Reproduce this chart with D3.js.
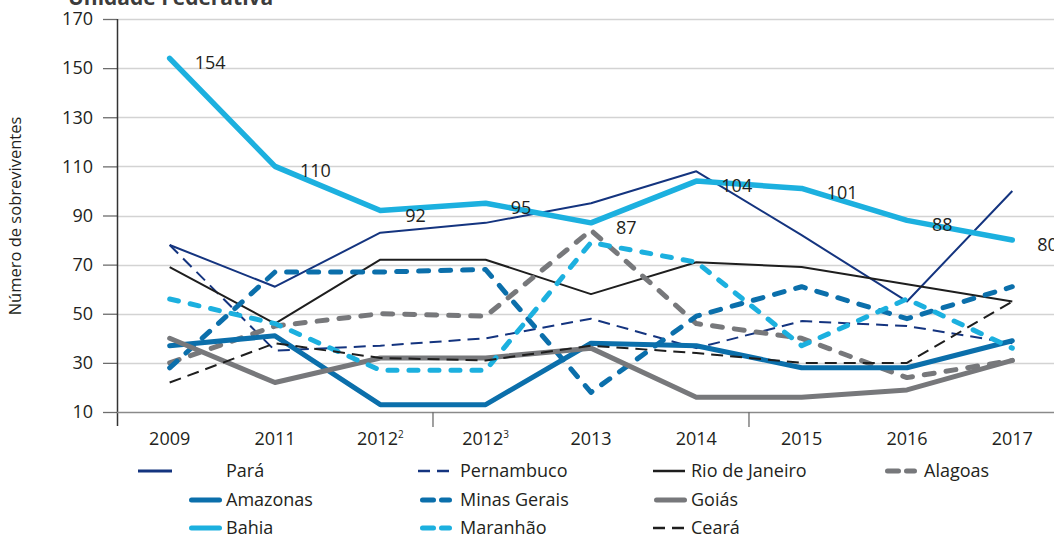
<!DOCTYPE html>
<html><head><meta charset="utf-8">
<script src="https://cdn.jsdelivr.net/npm/d3@7"></script>
<style>
html,body{margin:0;padding:0;background:#fff;}
svg{display:block;font-family:"Open Sans",sans-serif;}
</style></head>
<body><svg id="chart" width="1054" height="536"></svg>
<script>
// ---- data ----
const categories = ["2009","2011","2012²","2012³","2013","2014","2015","2016","2017"];
const yTicks = [10,30,50,70,90,110,130,150,170];
const para       = [78, 61, 83, 87, 95, 108, 82, 55, 100];
const pernambuco = [78, 35, 37, 40, 48, 36, 47, 45, 38];
const rio        = [69, 46, 72, 72, 58, 71, 69, 62, 55];
const alagoas    = [30, 45, 50, 49, 84, 46, 40, 24, 31];
const amazonas   = [37, 41, 13, 13, 38, 37, 28, 28, 39];
const minas      = [28, 67, 67, 68, 18, 49, 61, 48, 61];
const goias      = [40, 22, 32, 32, 36, 16, 16, 19, 31];
const bahia      = [154, 110, 92, 95, 87, 104, 101, 88, 80];
const maranhao   = [56, 46, 27, 27, 79, 71, 37, 56, 36];
const ceara      = [22, 38, 32, 31, 37, 34, 30, 30, 55];
const seriesNames = ["Pará","Pernambuco","Rio de Janeiro","Alagoas","Amazonas","Minas Gerais","Goiás","Bahia","Maranhão","Ceará"];
const seriesValues = [para, pernambuco, rio, alagoas, amazonas, minas, goias, bahia, maranhao, ceara];
const labelledSeries = "Bahia";

// ---- styles ----
const NAVY="#14347f", MID="#0b6fab", LIGHT="#1cb0df", GRAY="#77787b", BLACK="#1e1e1e";
const styles = {
  "Pará":          {color:NAVY,  w:2,   dash:null,    cap:"butt"},
  "Pernambuco":    {color:NAVY,  w:2,   dash:"12,7",  cap:"butt"},
  "Rio de Janeiro":{color:BLACK, w:2,   dash:null,    cap:"butt"},
  "Alagoas":       {color:GRAY,  w:5,   dash:"10,12", cap:"round"},
  "Amazonas":      {color:MID,   w:5,   dash:null,    cap:"round"},
  "Minas Gerais":  {color:MID,   w:5,   dash:"10,12", cap:"round"},
  "Goiás":         {color:GRAY,  w:5,   dash:null,    cap:"round"},
  "Bahia":         {color:LIGHT, w:5.5, dash:null,    cap:"round"},
  "Maranhão":      {color:LIGHT, w:5,   dash:"9,12",  cap:"round"},
  "Ceará":         {color:BLACK, w:2,   dash:"12,7",  cap:"butt"}
};
// legend layout: [x1, x2, textX, y]
const legendPos = {
  "Pará":[138,172,226,471], "Pernambuco":[418,450,460,471], "Rio de Janeiro":[653,685,691,471], "Alagoas":[885,917,924,471],
  "Amazonas":[189,222,226,500], "Minas Gerais":[420,452,460,500], "Goiás":[654,687,691,500],
  "Bahia":[189,222,226,528], "Maranhão":[420,452,460,528], "Ceará":[653,685,691,528]
};

const svg = d3.select("#chart");
const x = d3.scaleBand().domain(categories).range([117, 117 + 9*105.33]).paddingInner(0).paddingOuter(0);
const y = d3.scaleLinear().domain([10,170]).range([412,19]);
const cx = c => x(c) + x.bandwidth()/2;

// title (cut off at top)
svg.append("text").attr("x",68).attr("y",5).attr("font-size",21).attr("font-weight","bold")
  .attr("fill","#3c3c3c").text("Unidade Federativa");

// gridlines
svg.append("g").selectAll("line").data(yTicks.filter(t=>t>10)).join("line")
  .attr("x1",117).attr("x2",1065).attr("y1",d=>Math.round(y(d))+0.5).attr("y2",d=>Math.round(y(d))+0.5)
  .attr("stroke","#d3d3d3").attr("stroke-width",1.3);

// y axis
const yAxis = svg.append("g").attr("transform","translate(117,0)")
  .call(d3.axisLeft(y).tickValues(yTicks).tickSize(14).tickPadding(10).tickFormat(d3.format("d")));
yAxis.select(".domain").remove();
yAxis.selectAll(".tick line").attr("stroke","#6d6d6d").attr("stroke-width",1.3);
yAxis.selectAll(".tick text").attr("font-size",18).attr("fill","#231f20").attr("font-family","Open Sans");
svg.append("line").attr("x1",117.5).attr("x2",117.5).attr("y1",19).attr("y2",426).attr("stroke","#333").attr("stroke-width",1.5);

// x axis
const xAxisG = svg.append("g").attr("transform","translate(0,412)");
xAxisG.append("line").attr("x1",117).attr("x2",1065).attr("y1",0.5).attr("y2",0.5).attr("stroke","#8a8a8a").attr("stroke-width",1.6);
const xt = d3.axisBottom(x).tickSize(0).tickPadding(0);
const gx = svg.append("g").attr("transform","translate(0,412)").call(xt);
gx.select(".domain").remove();
gx.selectAll(".tick text").each(function(d){
  const t = d3.select(this).text("").attr("font-size",18).attr("fill","#231f20").attr("font-family","Open Sans").attr("y",33).attr("dy",null);
  const m = d.match(/^(\d{4})([²³]?)$/);
  t.append("tspan").text(m[1]);
  if (m[2]) t.append("tspan").attr("font-size",10).attr("dy",-7).text(m[2]==="²"?"2":"3");
});
// group ticks every 3 categories
[3,6,9].forEach(i=>{
  const xx = 117 + i*x.step();
  svg.append("line").attr("x1",xx).attr("x2",xx).attr("y1",412).attr("y2",427).attr("stroke","#6d6d6d").attr("stroke-width",1.3);
});

// y title
svg.append("text").attr("transform","translate(21,216) rotate(-90)").attr("text-anchor","middle")
  .attr("font-size",16.5).attr("fill","#231f20").text("Número de sobreviventes");

// lines
const line = d3.line().x((d,i)=>cx(categories[i])).y(d=>y(d));
const lg = svg.append("g");
seriesNames.forEach((name,k)=>{
  const s = styles[name];
  lg.append("path").datum(seriesValues[k]).attr("d",line).attr("fill","none")
    .attr("stroke",s.color).attr("stroke-width",s.w).attr("stroke-linejoin","round")
    .attr("stroke-linecap",s.cap).attr("stroke-dasharray",s.dash);
});

// data labels for Bahia
const bv = seriesValues[seriesNames.indexOf(labelledSeries)];
svg.append("g").selectAll("text").data(bv).join("text")
  .attr("x",(d,i)=>cx(categories[i])+25).attr("y",d=>y(d)+11)
  .attr("font-size",18).attr("fill","#231f20").text(d=>d);

// legend
const leg = svg.append("g");
seriesNames.forEach(name=>{
  const s = styles[name], p = legendPos[name];
  const thick = s.w >= 5;
  leg.append("line").attr("x1",p[0] + (thick?2.5:0)).attr("x2",p[1] - (thick?2.5:0)).attr("y1",p[3]).attr("y2",p[3])
    .attr("stroke",s.color).attr("stroke-width",thick?5:(name==="Pará"?3:2.5))
    .attr("stroke-linecap",s.cap)
    .attr("stroke-dasharray", s.dash ? (thick ? "11,8" : "12,7") : null);
  leg.append("text").attr("x",p[2]).attr("y",p[3]+6).attr("font-size",18).attr("fill","#231f20").text(name);
});
</script></body></html>
